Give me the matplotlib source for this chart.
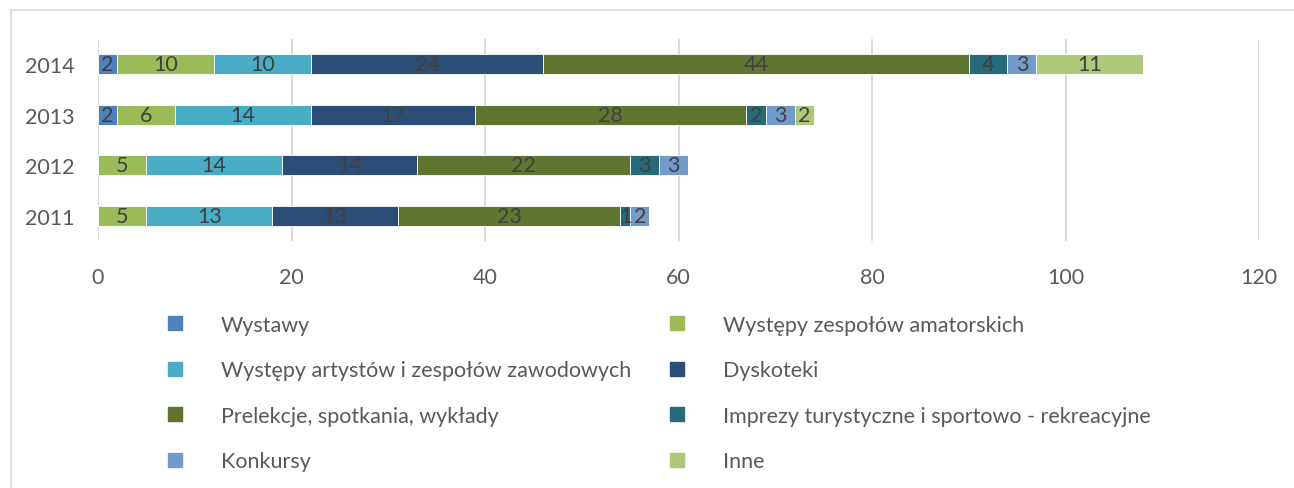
import numpy as np
import matplotlib.pyplot as plt
from matplotlib.lines import Line2D

plt.rcParams['font.family'] = ['Lato', 'DejaVu Sans']

years = ['2011', '2012', '2013', '2014']
categories = [
    'Wystawy',
    'Występy zespołów amatorskich',
    'Występy artystów i zespołów zawodowych',
    'Dyskoteki',
    'Prelekcje, spotkania, wykłady',
    'Imprezy turystyczne i sportowo - rekreacyjne',
    'Konkursy',
    'Inne',
]
wystawy = [0, 0, 2, 2]
amatorskie = [5, 5, 6, 10]
zawodowe = [13, 14, 14, 10]
dyskoteki = [13, 14, 17, 24]
prelekcje = [23, 22, 28, 44]
imprezy = [1, 3, 2, 4]
konkursy = [2, 3, 3, 3]
inne = [0, 0, 2, 11]
colors = ['#4F81BD', '#9BBB59', '#4BACC6', '#2C4D75',
          '#5F7530', '#276A7C', '#729ACA', '#AFC97A']

series = [wystawy, amatorskie, zawodowe, dyskoteki, prelekcje, imprezy, konkursy, inne]

fs = 15.5
fig = plt.figure(figsize=(12.94, 4.89), dpi=100)
ax = fig.add_axes([98 / 1294, 1 - 242 / 489, (1259 - 98) / 1294, 202 / 489])

y = np.arange(len(years))
left = np.zeros(len(years))
for name, vals, col in zip(categories, series, colors):
    vals = np.array(vals, dtype=float)
    bars = ax.barh(y, vals, left=left, height=0.4, color=col,
                   edgecolor='white', linewidth=0.6, label=name)
    ax.bar_label(bars, labels=[str(int(v)) if v > 0 else '' for v in vals],
                 label_type='center', color='#404040', fontsize=fs)
    left += vals

ax.set_xlim(0, 120)
ax.set_ylim(-0.5, 3.5)
ax.set_xticks(range(0, 121, 20))
ax.set_yticks(y)
ax.set_yticklabels(years)
ax.tick_params(length=0, labelsize=fs, colors='#595959')
ax.tick_params(axis='x', pad=19)
ax.tick_params(axis='y', pad=17)
ax.grid(axis='x', color='#D9D9D9', linewidth=1.4)
ax.set_axisbelow(True)
for s in ax.spines.values():
    s.set_visible(False)

# legend in row-major order
handles = [Line2D([], [], marker='s', linestyle='none', markersize=10,
                  color=c) for c in colors]
order = [0, 2, 4, 6, 1, 3, 5, 7]
fig.legend([handles[i] for i in order], [categories[i] for i in order],
           ncol=2, loc='upper left', bbox_to_anchor=(164 / 1294, 1 - 316 / 489),
           frameon=False, fontsize=fs, labelcolor='#595959',
           borderpad=0, borderaxespad=0,
           handlelength=1.0, handletextpad=1.65, columnspacing=1.6,
           labelspacing=1.18)

# chart border
fig.add_artist(Line2D([10.5 / 1294, 10.5 / 1294], [0, 1 - 11 / 489],
                      color='#D9D9D9', linewidth=1.2))
fig.add_artist(Line2D([10 / 1294, 1], [1 - 11 / 489, 1 - 11 / 489],
                      color='#D9D9D9', linewidth=1.2))

fig.savefig('out.png', dpi=100)
